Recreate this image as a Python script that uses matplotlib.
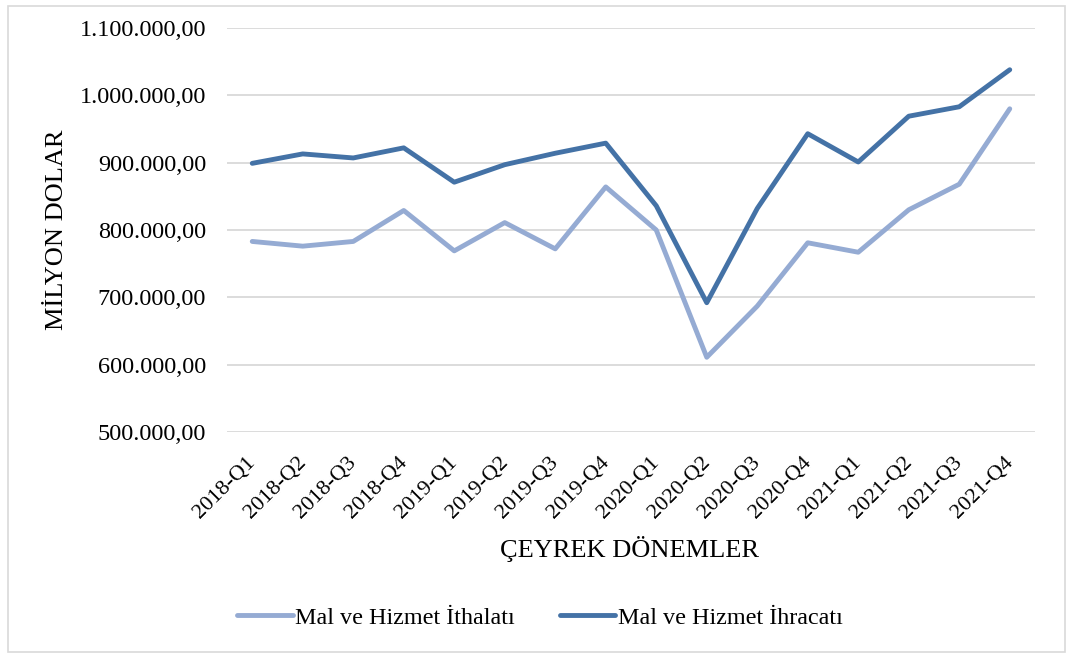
import matplotlib
matplotlib.use("Agg")
import matplotlib.pyplot as plt
from matplotlib.patches import Rectangle
from matplotlib.ticker import FuncFormatter
from matplotlib.transforms import ScaledTranslation

categories = ["2018-Q1", "2018-Q2", "2018-Q3", "2018-Q4",
              "2019-Q1", "2019-Q2", "2019-Q3", "2019-Q4",
              "2020-Q1", "2020-Q2", "2020-Q3", "2020-Q4",
              "2021-Q1", "2021-Q2", "2021-Q3", "2021-Q4"]
ithalat = [783000, 776000, 783000, 829000, 769000, 811000, 772000, 864000,
           800000, 611000, 687000, 781000, 767000, 830000, 868000, 980000]
ihracat = [899000, 913000, 907000, 922000, 871000, 897000, 914000, 929000,
           836000, 692000, 832000, 943000, 901000, 969000, 983000, 1038000]
yticks = [500000, 600000, 700000, 800000, 900000, 1000000, 1100000]

plt.rcParams['font.family'] = ['Liberation Serif', 'DejaVu Serif']

fig = plt.figure(figsize=(10.66, 6.57), dpi=100)
ax = fig.add_axes([227/1066, 1 - 432/657, (1035-227)/1066, (432-28)/657])

x = list(range(len(categories)))
ax.plot(x, ithalat, color='#95ABD3', lw=3.5, solid_capstyle='round', solid_joinstyle='round',
        label='Mal ve Hizmet İthalatı')
ax.plot(x, ihracat, color='#4472A6', lw=3.5, solid_capstyle='round', solid_joinstyle='round',
        label='Mal ve Hizmet İhracatı')

ax.set_xlim(-0.5, len(categories) - 0.5)
ax.set_ylim(500000, 1100000)
ax.set_yticks(yticks)

def fmt(v, pos):
    s = f"{int(round(v)):,}".replace(",", ".")
    return s + ",00"
ax.yaxis.set_major_formatter(FuncFormatter(fmt))
ax.set_xticks(x)
ax.set_xticklabels(categories, rotation=45, ha='right', rotation_mode='anchor')
ax.tick_params(axis='y', length=0, labelsize=17.5, colors='black', pad=15)
ax.tick_params(axis='x', length=0, labelsize=16, colors='black', pad=6)
off = ScaledTranslation(-6/100, -13/100, fig.dpi_scale_trans)
for lbl in ax.get_xticklabels():
    lbl.set_transform(lbl.get_transform() + off)

ax.grid(axis='y', color='#D9D9D9', lw=1.3)
ax.set_axisbelow(True)
for s in ax.spines.values():
    s.set_visible(False)

ax.set_ylabel('MİLYON DOLAR', fontsize=19)
ax.yaxis.set_label_coords((68 - 227) / (1035 - 227), 0.5)
fig.text(630/1066, 1 - 549/657, 'ÇEYREK DÖNEMLER', fontsize=19, ha='center', va='center')

fig.legend(loc='center', bbox_to_anchor=(540/1066, 1 - 618/657), ncol=2, frameon=False,
           fontsize=17.4, handlelength=2.3, columnspacing=1.85, handletextpad=0.1)

fig.patches.append(Rectangle((8/1066, 5/657), (1065-8)/1066, (651-5)/657,
                             transform=fig.transFigure, fill=False,
                             edgecolor='#D9D9D9', lw=1.2))

fig.savefig('out.png', dpi=100, facecolor='white')
